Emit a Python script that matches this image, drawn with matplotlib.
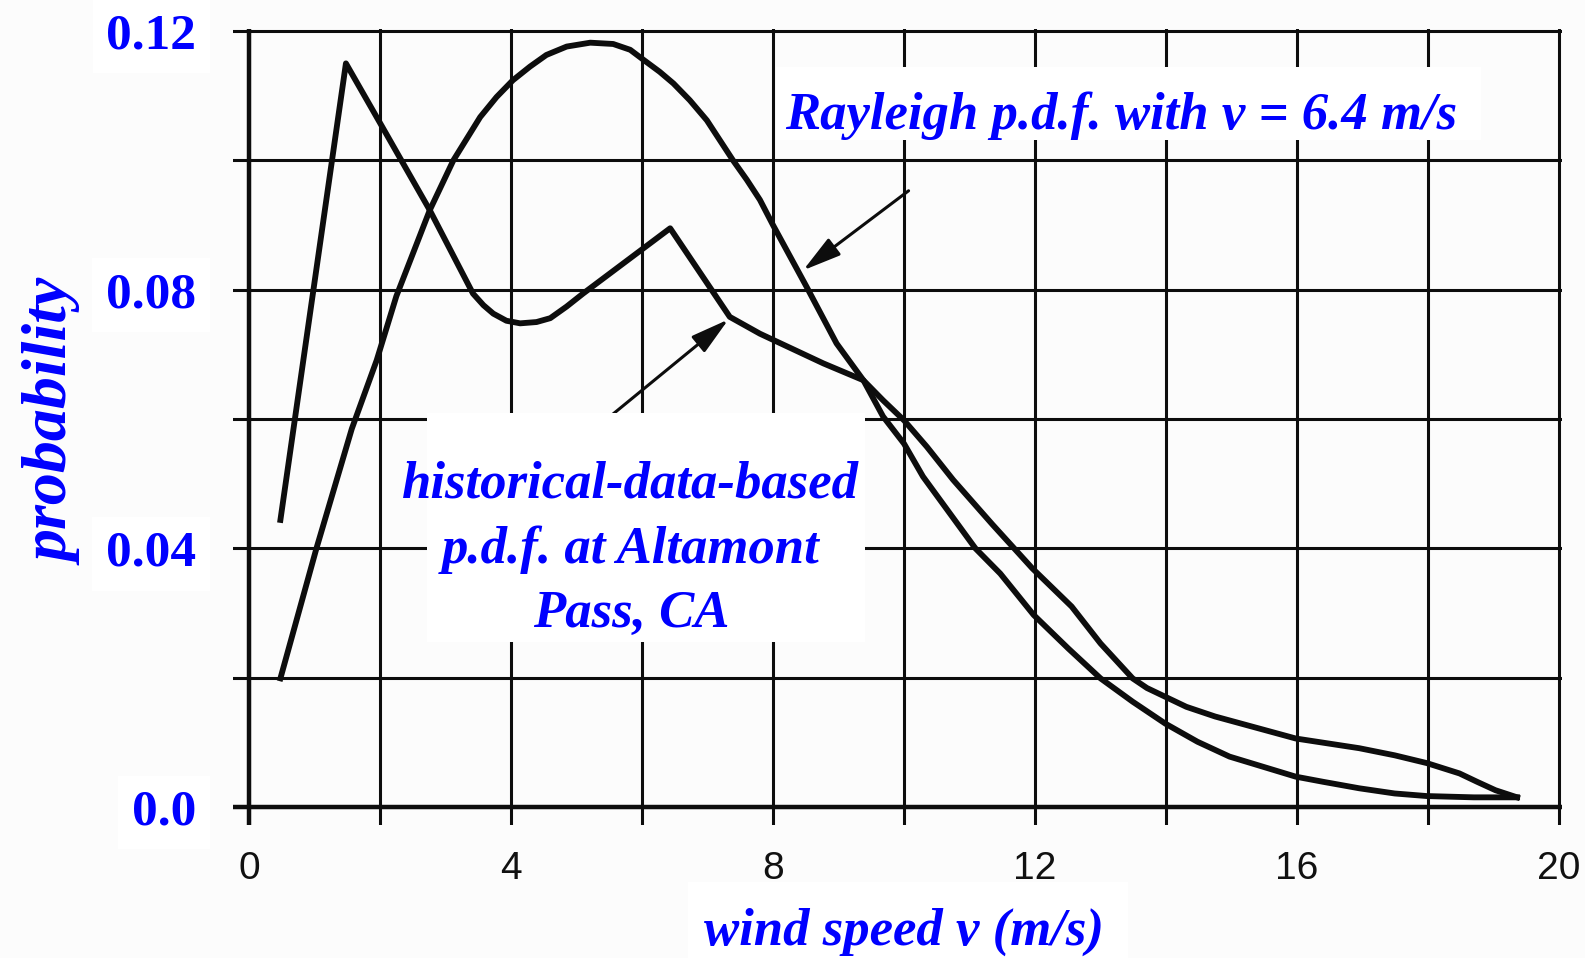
import numpy as np
import matplotlib.pyplot as plt
from matplotlib.patches import Rectangle

# historical-data-based p.d.f. at Altamont Pass
hist_v = [0.48, 1.48, 2.0, 2.76, 3.42, 3.58, 3.73, 3.93, 4.14, 4.39, 4.60, 4.85,
          5.10, 6.43, 7.34, 7.80, 8.77, 9.38, 9.68, 10.0, 10.35, 10.75, 11.35,
          11.96, 12.56, 13.0, 13.49, 13.71, 14.31, 14.75, 15.98, 16.95, 17.49,
          17.98, 18.48, 18.75, 19.03, 19.36]
hist_p = [0.0444, 0.1150, 0.1058, 0.0923, 0.0794, 0.0776, 0.0763, 0.0752, 0.0748,
          0.0750, 0.0756, 0.0774, 0.0794, 0.0895, 0.0758, 0.0732, 0.0686, 0.0660,
          0.0629, 0.0598, 0.0557, 0.0506, 0.0437, 0.0369, 0.0310, 0.0253, 0.0199,
          0.0184, 0.0155, 0.0140, 0.0106, 0.0091, 0.0080, 0.0068, 0.0052, 0.0039,
          0.0026, 0.0015]

# Rayleigh p.d.f. with mean v = 6.4 m/s
ray_v = [0.48, 1.03, 1.57, 1.95, 2.25, 2.76, 3.12, 3.53, 3.78, 4.03, 4.29, 4.54,
         4.85, 5.21, 5.56, 5.82, 6.03, 6.27, 6.48, 6.73, 6.99, 7.19, 7.39, 7.60,
         7.80, 8.0, 8.51, 8.97, 9.38, 9.68, 10.0, 10.29, 11.09, 11.47, 11.98,
         12.51, 13.0, 13.49, 13.99, 14.48, 14.97, 15.98, 16.40, 16.95, 17.49,
         17.98, 18.7, 19.36]
ray_p = [0.0199, 0.0400, 0.0585, 0.0691, 0.0790, 0.0923, 0.1000, 0.1067, 0.1098,
         0.1124, 0.1145, 0.1163, 0.1176, 0.1182, 0.1180, 0.1171, 0.1155, 0.1137,
         0.1119, 0.1093, 0.1062, 0.1031, 0.1000, 0.0970, 0.0939, 0.0900, 0.0805,
         0.0717, 0.0660, 0.0604, 0.0562, 0.0511, 0.0400, 0.0361, 0.0297, 0.0245,
         0.0199, 0.0163, 0.0129, 0.0101, 0.0078, 0.0047, 0.0039, 0.0029, 0.0021,
         0.0017, 0.0015, 0.0015]

x_ticks = [0, 2, 4, 6, 8, 10, 12, 14, 16, 18, 20]
x_labels = ['0', '', '4', '', '8', '', '12', '', '16', '', '20']
y_ticks = [0.0, 0.02, 0.04, 0.06, 0.08, 0.10, 0.12]
y_labels = ['0.0', '', '0.04', '', '0.08', '', '0.12']

hist_lines = ['historical-data-based', 'p.d.f. at Altamont', 'Pass, CA']

blue = '#0000ff'
ink = '#0d0d0d'
serif = 'Liberation Serif'
lab = dict(family=serif, weight='bold', style='italic', color=blue)

fig = plt.figure(figsize=(15.85, 9.58), dpi=100, facecolor='#fcfcfc')
ax = fig.add_axes([0.14675, 0.13935, 0.83893, 0.83027])
ax.set_facecolor('none')
ax.set_xlim(-0.25, 20.05)
ax.set_ylim(-0.0027, 0.1203)
for s in ax.spines.values():
    s.set_visible(False)

ax.set_xticks(x_ticks)
ax.set_xticklabels(x_labels)
ax.set_yticks(y_ticks)
ax.set_yticklabels(y_labels)
ax.tick_params(length=0)
ax.tick_params(axis='x', pad=19, labelsize=28, labelcolor='#111111')
ax.tick_params(axis='y', pad=26, labelsize=37, labelcolor=blue)
for lbl in ax.get_xticklabels():
    lbl.set_family('Liberation Sans')
for lbl in ax.get_yticklabels():
    lbl.set_family(serif)
    lbl.set_weight('bold')
    lbl.set_bbox(dict(facecolor='white', edgecolor='none', pad=10))

ax.grid(True, color=ink, lw=2.2)
ax.axhline(0, color=ink, lw=3.2, zorder=1.6)
ax.axvline(0, color=ink, lw=3.2, zorder=1.6)

ax.plot(hist_v, hist_p, color=ink, lw=4.2, zorder=2)
ax.plot(ray_v, ray_p, color=ink, lw=4.2, zorder=2)

arrow = dict(arrowstyle='-|>,head_length=1.3,head_width=0.35', color=ink, lw=2.2,
             shrinkA=0, shrinkB=0, mutation_scale=18)
ax.annotate('', xy=(8.46, 0.0830), xytext=(10.07, 0.0953), arrowprops=arrow, zorder=2.5)
ax.annotate('', xy=(7.32, 0.0754), xytext=(5.44, 0.0598), arrowprops=arrow, zorder=2.5)

# white label boxes hiding the grid
ax.add_patch(Rectangle((8.05, 0.1031), 10.76, 0.0113, facecolor='white',
                       edgecolor='none', zorder=3))
ax.add_patch(Rectangle((2.72, 0.0255), 6.68, 0.0354, facecolor='white',
                       edgecolor='none', zorder=3))

ax.text(13.31, 0.1048, 'Rayleigh p.d.f. with v = 6.4 m/s', ha='center',
        va='baseline', fontsize=38, zorder=4, **lab)
for line, yb in zip(hist_lines, [0.0478, 0.0377, 0.0278]):
    ax.text(5.83, yb, line, ha='center', va='baseline', fontsize=38, zorder=4, **lab)

ax.set_xlabel('wind speed v (m/s)', fontsize=38, **lab)
ax.xaxis.set_label_coords(0.5046, -0.1515)
ax.xaxis.label.set_va('baseline')
fig.patches.append(Rectangle((688 / 1585, 0), 440 / 1585, 76 / 958,
                             transform=fig.transFigure, facecolor='white',
                             edgecolor='none', zorder=-1))

ax.set_ylabel('probability', fontsize=46, **lab)
ax.yaxis.set_label_coords(-0.111, 0.5054)

fig.savefig('out.png', dpi=100, facecolor=fig.get_facecolor())
